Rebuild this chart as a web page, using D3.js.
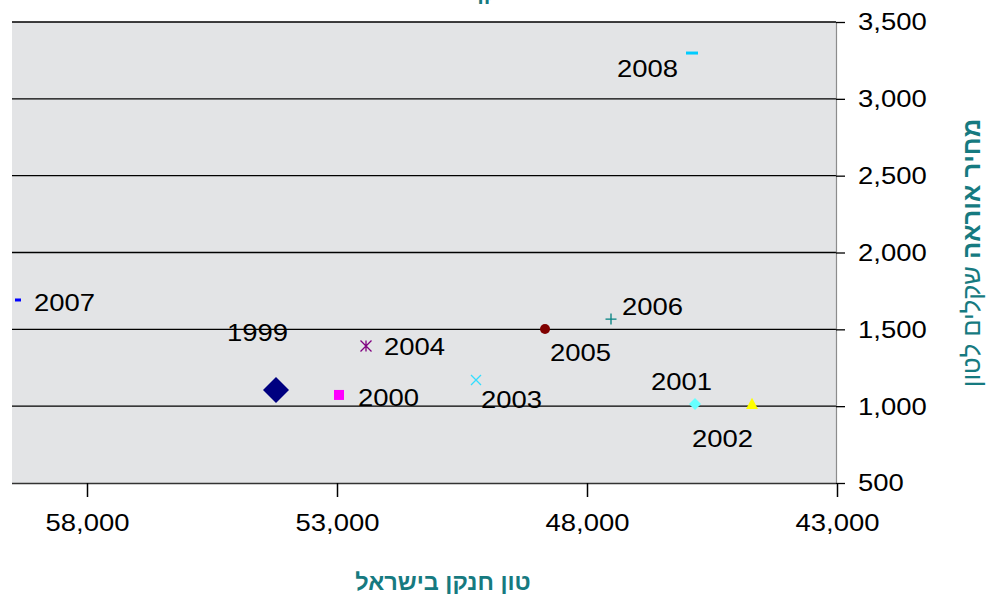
<!DOCTYPE html>
<html>
<head>
<meta charset="utf-8">
<script src="https://cdn.jsdelivr.net/npm/d3@7"></script>
<style>
  body { margin: 0; background: #fff; }
  svg { display: block; font-family: "Liberation Sans", Arial, sans-serif; }
</style>
</head>
<body>
<div id="chart"></div>
<script>
// data
var years = [1999, 2000, 2001, 2002, 2003, 2004, 2005, 2006, 2007, 2008]
var nitrogenTons = [54220, 52960, 45840, 44700, 50220, 52420, 48840, 47520, 59380, 45900]
var ureaPrice = [1105, 1073, 1014, 1015, 1170, 1391, 1502, 1567, 1691, 3298]
var xTicks = [58000, 53000, 48000, 43000]
var yTicks = [500, 1000, 1500, 2000, 2500, 3000, 3500]

var titleText = "מחיר אוראה וצריכת חנקן"
var xLabel = "טון חנקן בישראל"
var yLabelBold = "מחיר אוראה"
var yLabelNormal = " שקלים לטון"

var width = 988
var height = 597
var teal = "#167a80"

// marker look for each year
var markers = {
  1999: { shape: "diamond", size: 13, color: "#000080" },
  2000: { shape: "square", size: 5, color: "#ff00ff" },
  2001: { shape: "diamond", size: 6, color: "#66ffff" },
  2002: { shape: "triangle", size: 6, color: "#ffff00" },
  2003: { shape: "x", size: 5, color: "#33ddff" },
  2004: { shape: "star", size: 5.5, color: "#800080" },
  2005: { shape: "circle", size: 5, color: "#800000" },
  2006: { shape: "plus", size: 5.5, color: "#008080" },
  2007: { shape: "dash", size: 3, color: "#0000ff" },
  2008: { shape: "dash", size: 6, color: "#00ccff" }
}

// where each label sits relative to its point (dx = left edge, dy = baseline)
var labelPos = {
  1999: [-49, -49],
  2000: [19, 11],
  2001: [-44, -14],
  2002: [-60, 43],
  2003: [5, 28],
  2004: [18, 9],
  2005: [5, 32],
  2006: [11, -4],
  2007: [16, 11],
  2008: [-75, 24]
}

// the reference font is drawn a little wide
function stretch(sel, k) {
  sel.each(function () {
    var w = this.getComputedTextLength()
    d3.select(this).attr("textLength", w * k).attr("lengthAdjust", "spacingAndGlyphs")
  })
}

var x = d3.scaleLinear().domain([59500, 43000]).range([12, 837])
var y = d3.scaleLinear().domain([500, 3500]).range([483, 22])

var svg = d3.select("#chart").append("svg")
  .attr("width", width)
  .attr("height", height)

// plot background
svg.append("rect")
  .attr("x", x.range()[0])
  .attr("y", y(3500))
  .attr("width", 836 - x.range()[0])
  .attr("height", y(500) - y(3500))
  .attr("fill", "#e3e4e6")

// gridlines
svg.append("g")
  .selectAll("line")
  .data(yTicks.filter(d => d > 500))
  .join("line")
    .attr("x1", 12)
    .attr("x2", 836)
    .attr("y1", d => y(d))
    .attr("y2", d => y(d))
    .attr("stroke", "#000")
    .attr("stroke-width", 1.3)

// right value axis
var gy = svg.append("g")
  .attr("transform", "translate(836,0)")
  .call(d3.axisRight(y).tickValues(yTicks).tickSize(9).tickPadding(13).tickFormat(d3.format(",")))
gy.select(".domain").attr("stroke", "#8c8c8c").attr("stroke-width", 1.2).attr("d", `M0.5,${y(3500)}V${y(500)}`)
gy.selectAll(".tick line").attr("stroke", "#000").attr("stroke-width", 1.3)
gy.selectAll(".tick text")
  .attr("font-size", 24.5)
  .attr("fill", "#000")
  .attr("font-family", "Liberation Sans, Arial, sans-serif")
  .call(stretch, 1.12)

// bottom axis (reversed)
var gx = svg.append("g")
  .attr("transform", `translate(0,${y(500)})`)
  .call(d3.axisBottom(x).tickValues(xTicks).tickSize(14).tickPadding(17).tickFormat(d3.format(",")))
gx.select(".domain").attr("stroke", "#333").attr("stroke-width", 1.6).attr("d", `M12,0.5H836`)
gx.selectAll(".tick line").attr("stroke", "#000").attr("stroke-width", 1.5)
gx.selectAll(".tick text")
  .attr("font-size", 24.5)
  .attr("fill", "#000")
  .attr("font-family", "Liberation Sans, Arial, sans-serif")
  .call(stretch, 1.12)

// points
var pts = years.map((yr, i) => ({ year: yr, n: nitrogenTons[i], p: ureaPrice[i] }))

function markerPath(shape, s) {
  if (shape === "diamond") return `M0,${-s}L${s},0L0,${s}L${-s},0Z`
  if (shape === "square") return `M${-s},${-s}H${s}V${s}H${-s}Z`
  if (shape === "triangle") return `M0,${-s}L${s},${s * 0.85}L${-s},${s * 0.85}Z`
  if (shape === "x") return `M${-s},${-s}L${s},${s}M${s},${-s}L${-s},${s}`
  if (shape === "plus") return `M${-s},0H${s}M0,${-s}V${s}`
  if (shape === "star") return `M${-s},${-s}L${s},${s}M${s},${-s}L${-s},${s}M0,${-s}V${s}`
  if (shape === "dash") return `M${-s},-1.5H${s}V1.5H${-s}Z`
  return ""
}

var gPts = svg.append("g")
gPts.selectAll("g")
  .data(pts)
  .join("g")
    .attr("transform", d => `translate(${x(d.n)},${y(d.p)})`)
    .each(function (d) {
      var m = markers[d.year]
      var g = d3.select(this)
      var open = m.shape === "x" || m.shape === "plus" || m.shape === "star"
      if (m.shape === "circle") {
        g.append("circle").attr("r", m.size).attr("fill", m.color)
      } else {
        g.append("path")
          .attr("d", markerPath(m.shape, m.size))
          .attr("fill", open ? "none" : m.color)
          .attr("stroke", open ? m.color : "none")
          .attr("stroke-width", 1.3)
      }
    })

// year labels
svg.append("g")
  .selectAll("text")
  .data(pts)
  .join("text")
    .attr("x", d => x(d.n) + labelPos[d.year][0])
    .attr("y", d => y(d.p) + labelPos[d.year][1])
    .attr("font-size", 24.5)
    .attr("fill", "#000")
    .text(d => d.year)
    .call(stretch, 1.12)

// title, mostly cut off at the top as in the source
svg.append("text")
  .attr("x", 600)
  .attr("y", 0)
  .attr("text-anchor", "middle")
  .attr("direction", "rtl")
  .attr("font-size", 22)
  .attr("font-weight", "bold")
  .attr("fill", teal)
  .text(titleText)

// x axis title
svg.append("text")
  .attr("x", 443)
  .attr("y", 590)
  .attr("text-anchor", "middle")
  .attr("font-size", 23.5)
  .attr("font-weight", "bold")
  .attr("fill", teal)
  .text(xLabel)

// y axis title
var yt = svg.append("text")
  .attr("transform", "translate(980,253) rotate(-90)")
  .attr("text-anchor", "middle")
  .attr("direction", "rtl")
  .attr("font-size", 25.5)
  .attr("fill", teal)
yt.append("tspan").attr("font-weight", "bold").text(yLabelBold)
yt.append("tspan").text(yLabelNormal)
</script>
</body>
</html>
